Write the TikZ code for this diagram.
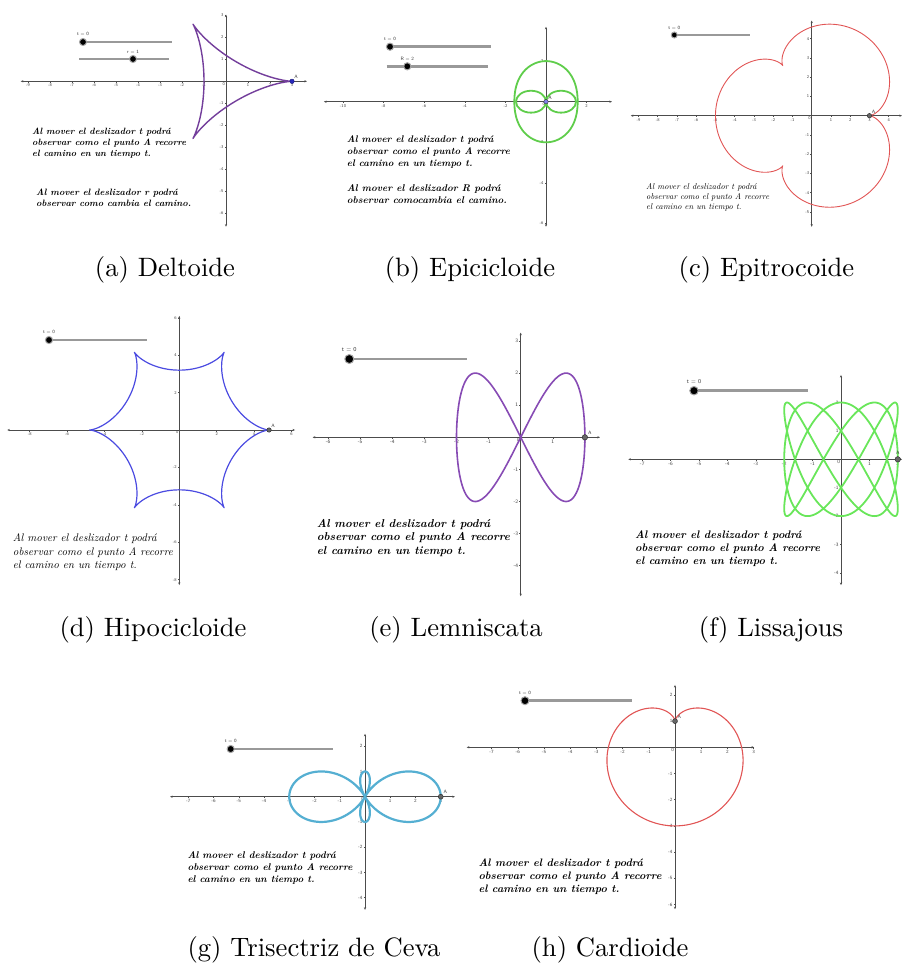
\documentclass[tikz,border=0pt]{standalone}
\usetikzlibrary{arrows.meta,positioning}

\definecolor{ggpurple}{RGB}{115,62,155}
\definecolor{gglilac}{RGB}{135,75,180}
\definecolor{gggreen}{RGB}{95,205,75}
\definecolor{gglime}{RGB}{105,230,90}
\definecolor{ggred}{RGB}{225,85,85}
\definecolor{ggblue}{RGB}{75,75,225}
\definecolor{ggcyan}{RGB}{85,175,210}
\definecolor{ggdot}{RGB}{40,40,190}

% axes with ticks: xmin, xmax, ymin, ymax, x ticks, y ticks
\newcommand{\ggaxes}[6]{%
  \draw[axis] (#1,0) -- (#2,0);
  \draw[axis] (0,#3) -- (0,#4);
  \foreach \v in {#5}{\draw[tick] (\v,0) -- ++(0,-1.5pt) node[ticklab,below] (tx\v) {\v};}
  \foreach \v in {#6}{\draw[tick] (0,\v) -- ++(-1.5pt,0) node[ticklab,left] (ty\v) {\v};}
  \node[ticklab,below left] (orig) at (0,0) {0};
}
% slider: name, x1, x2, y, knob x, label, knob size
\newcommand{\ggslider}[7]{%
  \draw[rail] (#2,#4) -- (#3,#4);
  \node[knob, minimum size=#7] (#1) at (#5,#4) {};
  \node[lbl, above=1.2pt of #1] (#1l) {#6};
}
% text block: width, font, lines
\newcommand{\ggnote}[3]{\resizebox{#1}{!}{#2\begin{tabular}{@{}l@{}}#3\end{tabular}}}

\begin{document}
\begin{tikzpicture}[x=1pt, y=-1pt,
  axis/.style={draw=black!70, line width=0.6pt,
               {Stealth[length=2.6pt,width=2.2pt]}-{Stealth[length=2.6pt,width=2.2pt]}},
  tick/.style={draw=black!70, line width=0.5pt},
  ticklab/.style={font=\fontsize{4.3}{5}\selectfont\sffamily, text=black!75, inner sep=0.8pt},
  curve/.style={line width=#1, line join=round},
  rail/.style={draw=black!40, line width=2.5pt},
  knob/.style={circle, fill=black, draw=black!35, line width=1pt, inner sep=0pt},
  lbl/.style={font=\fontsize{4.8}{5}\selectfont\sffamily, text=black!80, inner sep=0.5pt},
  pt/.style={circle, fill=black!60, draw=black!85, line width=0.4pt, inner sep=0pt, minimum size=4.5pt},
  note/.style={anchor=west, inner sep=0pt},
  capt/.style={anchor=base, inner sep=0pt}
]
\useasboundingbox (0,0) rectangle (902,966);

% --- (a) Deltoide ---
\begin{scope}[shift={(226,81.3)}, x=22pt, y=22pt]
  \ggaxes{-9.33}{3.68}{-6.61}{3.03}{-9,-8,...,-1,1,2,3}{-6,-5,...,-1,1,2,3}
  \draw[curve=1.4pt, draw=ggpurple] plot[domain=0:360, samples=300]
    ({2*cos(\x)+cos(2*\x)},{2*sin(\x)-sin(2*\x)});
  \node[pt, fill=ggdot, draw=ggdot!60!black] (Aa) at (3,0) {};
  \node[lbl, above right=0pt of Aa] (Aal) {A};
\end{scope}
\ggslider{sta}{83}{172}{42}{83}{t = 0}{7pt}
\ggslider{sra}{79}{169}{59}{133}{r = 1}{7pt}
\node[note] (na1) at (32,143.4) {\ggnote{154pt}{\bfseries\itshape}{Al mover el deslizador t podrá\\ observar como el punto A recorre\\ el camino en un tiempo t.}};
\node[note] (na2) at (36,199) {\ggnote{155pt}{\bfseries\itshape}{Al mover el deslizador r podrá\\ observar como cambia el camino.}};

% --- (b) Epicicloide ---
\begin{scope}[shift={(546,101.7)}, x=20.3pt, y=20.3pt]
  \ggaxes{-10.94}{3.25}{-6.16}{3.69}{-10,-8,...,-2,2}{-6,-4,-2,2}
  \draw[curve=1.8pt, draw=gggreen] plot[domain=0:360, samples=200]
    ({(1.56+0.44*sin(\x)^2)*cos(\x)},{(1.56+0.44*sin(\x)^2)*sin(\x)});
  \draw[curve=1.8pt, draw=gggreen] (0.74,0) ellipse[x radius=0.74, y radius=0.54];
  \draw[curve=1.8pt, draw=gggreen] (-0.74,0) ellipse[x radius=0.74, y radius=0.54];
  \node[pt, fill=ggblue!70, draw=black!80] (Ab) at (0,0) {};
  \node[lbl, above right=0pt of Ab] (Abl) {A};
\end{scope}
\ggslider{stb}{390}{490.7}{46.7}{390}{t = 0}{7.2pt}
\ggslider{srb}{386.7}{487.7}{66.3}{407.3}{R = 2}{7.2pt}
\node[note] (nb1) at (346.7,152.2) {\ggnote{163pt}{\bfseries\itshape}{Al mover el deslizador t podrá\\ observar como el punto A recorre\\ el camino en un tiempo t.}};
\node[note] (nb2) at (346.7,195.5) {\ggnote{160pt}{\bfseries\itshape}{Al mover el deslizador R podrá\\ observar comocambia el camino.}};

% --- (c) Epitrocoide ---
\begin{scope}[shift={(811.7,115.7)}, x=19.25pt, y=19.25pt]
  \ggaxes{-9.4}{4.69}{-5.77}{4.94}{-9,-8,...,-1,1,2,3,4}{-5,-4,...,-1,1,2,3,4}
  \draw[curve=0.9pt, draw=ggred] plot[domain=0:360, samples=300]
    ({4*cos(\x)-cos(4*\x)},{4*sin(\x)-sin(4*\x)});
  \node[pt] (Ac) at (3,0) {};
  \node[lbl, above right=0pt of Ac] (Acl) {A};
\end{scope}
\ggslider{stc}{674.3}{750}{35}{674.3}{t = 0}{6pt}
\node[note] (nc) at (646,197.5) {\ggnote{123pt}{\itshape}{Al mover el deslizador t podrá\\ observar como el punto A recorre\\ el camino en un tiempo t.}};

% --- (d) Hipocicloide ---
\begin{scope}[shift={(179.3,430)}, x=18.7pt, y=18.7pt]
  \ggaxes{-9.2}{6.19}{-8.29}{6.1}{-8,-6,-4,-2,2,4,6}{-8,-6,-4,-2,2,4,6}
  \draw[curve=1.2pt, draw=ggblue] plot[domain=0:360, samples=300]
    ({4*cos(\x)+0.8*cos(5*\x)},{4*sin(\x)-0.8*sin(5*\x)});
  \node[pt] (Ad) at (4.8,0) {};
  \node[lbl, above right=0pt of Ad] (Adl) {A};
\end{scope}
\ggslider{std}{49}{146.7}{340}{49}{t = 0}{7.2pt}
\node[note] (nd) at (12.7,552.5) {\ggnote{160pt}{\itshape}{Al mover el deslizador t podrá\\ observar como el punto A recorre\\ el camino en un tiempo t.}};

% --- (e) Lemniscata ---
\begin{scope}[shift={(520.7,437.3)}, x=32.1pt, y=32.1pt,
  ticklab/.append style={font=\fontsize{5.2}{6}\selectfont\sffamily}]
  \ggaxes{-6.48}{2.47}{-4.95}{3.26}{-6,-5,...,-1,1,2}{-4,-3,-2,-1,1,2,3}
  \draw[curve=1.6pt, draw=gglilac] plot[domain=0:360, samples=200]
    ({2*cos(\x)},{2*sin(2*\x)});
  \node[pt, minimum size=5.5pt] (Ae) at (2,0) {};
  \node[lbl, above right=0.5pt of Ae] (Ael) {A};
\end{scope}
\begin{scope}[lbl/.append style={font=\fontsize{6}{7}\selectfont\sffamily}]
  \ggslider{ste}{349.3}{466.7}{359}{349.3}{t = 0}{9pt}
\end{scope}
\node[note] (ne) at (316.7,538) {\ggnote{193pt}{\bfseries\itshape}{Al mover el deslizador t podrá\\ observar como el punto A recorre\\ el camino en un tiempo t.}};

% --- (f) Lissajous ---
\begin{scope}[shift={(841,459.3)}, x=28.4pt, y=28.4pt,
  ticklab/.append style={font=\fontsize{5}{6}\selectfont\sffamily}]
  \ggaxes{-7.49}{2.15}{-4.43}{2.97}{-7,-6,...,-1,1,2}{-4,-3,-2,-1,1,2}
  \draw[curve=1.8pt, draw=gglime] plot[domain=0:360, samples=500]
    ({2*cos(3*\x)},{2*sin(5*\x)});
  \node[pt, minimum size=5.5pt] (Af) at (2,0) {};
  \node[lbl, above=0.8pt of Af] (Afl) {A};
\end{scope}
\begin{scope}[lbl/.append style={font=\fontsize{5.8}{7}\selectfont\sffamily}]
  \ggslider{stf}{694}{808.3}{390.7}{694}{t = 0}{8.5pt}
\end{scope}
\node[note] (nf) at (635,549) {\ggnote{185pt}{\bfseries\itshape}{Al mover el deslizador t podrá\\ observar como el punto A recorre\\ el camino en un tiempo t.}};

% --- (g) Trisectriz de Ceva ---
\begin{scope}[shift={(365,796.7)}, x=25.25pt, y=25.25pt,
  ticklab/.append style={font=\fontsize{4.8}{6}\selectfont\sffamily}]
  \ggaxes{-7.72}{3.56}{-4.48}{2.49}{-7,-6,...,-1,1,2,3}{-4,-3,-2,-1,1,2}
  \draw[curve=2.2pt, draw=ggcyan] plot[domain=0:360, samples=300]
    ({(1+2*cos(2*\x))*cos(\x)},{(1+2*cos(2*\x))*sin(\x)});
  \node[pt, minimum size=5pt] (Ag) at (3,0) {};
  \node[lbl, above right=0.5pt of Ag] (Agl) {A};
\end{scope}
\ggslider{stg}{230.7}{332.7}{749}{230.7}{t = 0}{7.2pt}
\node[note] (ng) at (187.3,868.3) {\ggnote{165pt}{\bfseries\itshape}{Al mover el deslizador t podrá\\ observar como el punto A recorre\\ el camino en un tiempo t.}};

% --- (h) Cardioide ---
\begin{scope}[shift={(675,747.3)}, x=26.2pt, y=26.2pt,
  ticklab/.append style={font=\fontsize{4.8}{6}\selectfont\sffamily}]
  \ggaxes{-7.95}{3.02}{-6.18}{2.38}{-7,-6,...,-1,1,2,3}{-6,-5,...,-1,1,2}
  \draw[curve=1.1pt, draw=ggred] plot[domain=0:360, samples=300]
    ({2*(1-sin(\x))*cos(\x)},{1+2*(1-sin(\x))*sin(\x)});
  \node[pt, minimum size=5pt] (Ah) at (0,1) {};
  \node[lbl, above right=0pt of Ah] (Ahl) {A};
\end{scope}
\ggslider{sth}{525}{631.7}{700.7}{525}{t = 0}{8pt}
\node[note] (nh) at (478.3,876.7) {\ggnote{183pt}{\bfseries\itshape}{Al mover el deslizador t podrá\\ observar como el punto A recorre\\ el camino en un tiempo t.}};

% --- Captions ---
\node[capt] (capa) at (165,276.6) {\scalebox{2.66}{(a) Deltoide}};
\node[capt] (capb) at (470,276.6) {\scalebox{2.66}{(b) Epicicloide}};
\node[capt] (capc) at (766.5,276.6) {\scalebox{2.66}{(c) Epitrocoide}};
\node[capt] (capd) at (153,636.6) {\scalebox{2.66}{(d) Hipocicloide}};
\node[capt] (cape) at (456,636.6) {\scalebox{2.66}{(e) Lemniscata}};
\node[capt] (capf) at (771,636.6) {\scalebox{2.66}{(f) Lissajous}};
\node[capt] (capg) at (314,956.6) {\scalebox{2.66}{(g) Trisectriz de Ceva}};
\node[capt] (caph) at (610,956.6) {\scalebox{2.66}{(h) Cardioide}};

\end{tikzpicture}
\end{document}
